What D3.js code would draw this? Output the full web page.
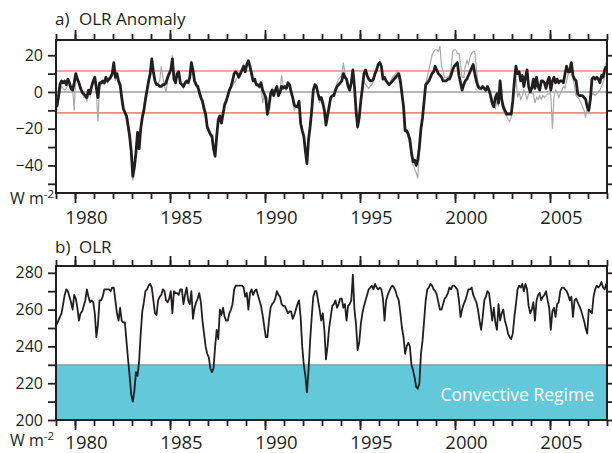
<!DOCTYPE html>
<html>
<head>
<meta charset="utf-8">
<title>OLR anomaly and OLR</title>
<script src="https://d3js.org/d3.v7.min.js"></script>
<style>
  body { margin: 0; background: #fff; }
  svg text { font-family: "Open Sans", sans-serif; fill: #231f20; }
</style>
</head>
<body>
<div id="chart"></div>
<script>
// monthly values, Jan 1979 .. Dec 2007 (one row per year)
const startYear = 1979, endYear = 2008;

// a) OLR anomaly, thick black series
const anomBlack = [
  -8, -3, 4, 6, 5, 6, 4, 7, 5, 2, 1, 5,
  10, 7, 5, 2, 0, -1, -2, -3, 1, -1, 3, 6,
  8, 2, -3, 5, 5, 6, 5, 8, 6, 7, 8, 10,
  16, 8, 10, 6, 4, -3, -9, -11, -13, -18, -24, -32,
  -46, -41, -33, -22, -31, -20, -14, -10, -4, 1, 6, 10,
  18, 11, 6, 4, 4, 3, 3, 4, 4, 5, 8, 10,
  12, 18, 7, 5, 10, 11, 5, 4, 3, 5, 6, 5,
  8, 16, 12, 6, 4, 3, 0, -3, -5, -9, -12, -19,
  -21, -23, -24, -31, -35, -24, -15, -13, -17, -12, -7, -5,
  -2, 1, 3, 6, 10, 11, 10, 8, 10, 12, 14, 11,
  15, 17, 14, 10, 6, 7, 4, 4, 3, 5, 1, -1,
  -3, -12, -8, -1, 1, -2, 1, 3, -2, 0, 3, 2,
  3, 2, 5, 4, 0, -3, -7, -8, -8, -5, -17, -21,
  -24, -32, -39, -26, -19, -10, 1, 4, 3, -1, -4, -3,
  -6, -10, -18, -13, -8, -3, -2, -2, 1, 3, 4, 5,
  6, 10, 8, 7, 3, 1, 5, 12, 3, -10, -19, -14,
  -5, 2, 10, 12, 9, 7, 6, 6, 7, 10, 12, 15,
  16, 14, 7, 8, 6, 5, 4, 5, 6, 7, 8, 9,
  10, 6, -1, -8, -21, -21, -23, -26, -33, -38, -37, -40,
  -37, -30, -20, -14, -5, 4, 5, 6, 8, 10, 11, 14,
  12, 10, 9, 8, 6, 6, 6, 7, 7, 9, 12, 14,
  15, 16, 9, 5, 1, 4, 6, 7, 9, 11, 13, 15,
  10, 6, 3, 2, 2, 3, 2, 1, 3, 1, -2, -6,
  -8, -3, -1, -6, 6, -4, -8, -10, -12, -12, -12, -12,
  -5, 6, 14, 10, 11, 6, 9, 3, 8, 12, 3, 0,
  2, 7, 2, 8, 3, 1, 6, 6, 5, 2, 6, 8,
  1, 6, 8, 5, 7, 5, 6, 6, 5, 10, 14, 11,
  11, 16, 9, 7, 6, -1, -2, -2, -2, -3, -4, -8,
  -10, -4, 7, 8, 7, 8, 7, 5, 9, 8, 12, 14
];

// a) OLR anomaly, thin grey series
const anomGray = [
  -10, -5, 0, 3, 2, 1, 2, 4, 3, 1, 2, -10,
  8, 6, 4, 1, -1, -3, -3, -5, 0, -2, 2, 5,
  7, 0, -16, 3, 4, 5, 4, 6, 5, 6, 7, 9,
  16, 6, 9, 4, 2, -4, -10, -12, -14, -20, -26, -34,
  -48, -42, -33, -24, -30, -19, -12, -8, -3, 2, 7, 12,
  16, 12, 6, 4, 5, 6, 14, 8, 3, 0, 6, 9,
  13, 20, 8, 5, 10, 10, 5, 4, 2, 4, 5, 6,
  8, 17, 11, 5, 3, 2, -2, -4, -7, -10, -14, -20,
  -22, -24, -25, -30, -33, -22, -14, -13, -15, -11, -6, -4,
  -1, 0, 2, 3, 5, 6, 8, 8, 11, 13, 15, 12,
  14, 16, 13, 9, 6, 6, 3, 3, 2, 4, -6, -2,
  -5, -13, -6, 0, 2, -1, 1, 2, -2, 1, 9, 3,
  2, 1, 4, 3, -1, -4, -10, -8, -9, -6, -15, -20,
  -26, -30, -38, -24, -17, -9, 2, 4, 2, -2, -6, -3,
  -5, -10, -16, -13, -8, -4, -3, -1, 2, 5, 7, 8,
  9, 16, 10, 7, 3, 2, 6, 12, 2, -11, -20, -14,
  -6, 0, 6, 4, 3, 2, 3, 4, 6, 9, 11, 14,
  15, 13, 8, 7, 6, 4, 4, 6, 8, 9, 10, 11,
  9, 5, -2, -10, -22, -22, -25, -28, -35, -40, -42, -44,
  -47, -32, -20, -12, -4, 5, 8, 12, 16, 20, 22, 23,
  23, 22, 25, 14, 11, 8, 8, 8, 9, 12, 22, 23,
  23, 21, 21, 15, 8, 8, 14, 17, 15, 19, 21, 22,
  22, 13, 5, 3, 1, 2, 1, 0, 2, 0, -4, -8,
  -8, -9, -5, -8, 3, -7, -10, -12, -13, -15, -16, -14,
  -6, 2, 8, -3, 0, -4, -2, 1, -1, -4, -1, 0,
  -1, -1, -6, -3, -4, -2, -4, -2, -3, -2, -1, -1,
  -1, -20, -3, 1, 0, -3, -1, 1, 3, 2, 6, 10,
  15, 14, 7, 3, -2, -3, -4, -6, -8, -10, -14, -8,
  -12, -5, -1, -1, -2, -1, 0, 1, 3, 5, 8, 16
];

// b) OLR
const olr = [
  252, 254, 256, 258, 263, 268, 271, 270, 267, 264, 260, 268,
  266, 261, 254, 258, 259, 262, 265, 271, 267, 264, 265, 264,
  258, 245, 252, 265, 265, 267, 271, 271, 271, 271, 270, 272,
  272, 265, 258, 254, 261, 254, 253, 253, 243, 233, 224, 214,
  210, 216, 226, 224, 232, 247, 259, 264, 270, 271, 273, 274,
  272, 265, 258, 257, 265, 267, 268, 271, 270, 265, 264, 266,
  270, 258, 270, 269, 269, 268, 271, 271, 263, 268, 272, 265,
  263, 270, 255, 261, 264, 266, 269, 264, 254, 247, 240, 236,
  234, 228, 226, 228, 240, 249, 244, 260, 257, 261, 256, 254,
  254, 258, 260, 263, 271, 273, 273, 273, 273, 273, 272, 267,
  269, 260, 269, 271, 268, 270, 271, 268, 265, 262, 257, 251,
  245, 245, 254, 261, 263, 264, 266, 270, 268, 267, 263, 262,
  262, 260, 258, 259, 259, 255, 257, 260, 263, 265, 256, 240,
  230, 224, 215, 227, 243, 256, 267, 270, 270, 265, 260, 254,
  258, 249, 233, 240, 250, 256, 262, 263, 265, 261, 263, 266,
  266, 261, 263, 254, 262, 263, 265, 279, 260, 252, 238, 242,
  252, 258, 262, 265, 268, 271, 272, 273, 271, 274, 272, 271,
  272, 271, 266, 254, 265, 268, 270, 272, 273, 272, 270, 267,
  265, 258, 250, 245, 236, 240, 242, 240, 230, 227, 223, 218,
  217, 220, 236, 243, 254, 265, 271, 272, 274, 273, 271, 270,
  268, 264, 260, 260, 263, 266, 267, 269, 272, 271, 273, 273,
  272, 271, 265, 256, 260, 263, 265, 268, 271, 271, 272, 268,
  266, 264, 260, 254, 249, 256, 265, 267, 270, 269, 262, 254,
  261, 253, 249, 263, 254, 258, 260, 254, 251, 247, 245, 244,
  247, 256, 263, 271, 273, 272, 274, 270, 274, 271, 262, 258,
  260, 264, 254, 265, 268, 269, 265, 267, 268, 270, 265, 261,
  249, 259, 261, 256, 263, 264, 270, 272, 272, 271, 270, 268,
  265, 267, 256, 265, 266, 264, 262, 260, 257, 254, 250, 247,
  260, 259, 258, 267, 271, 273, 272, 273, 275, 272, 271, 274
];

const anomLabels = [20, 0, -20, -40];
const olrLabels = [200, 220, 240, 260, 280];
const anomLimit = 11.4;     // red threshold lines
const convective = 230;     // top of the convective regime band

const width = 612, height = 453;
const svg = d3.select("#chart").append("svg")
  .attr("width", width)
  .attr("height", height);

const x = d3.scaleLinear().domain([startYear, endYear]).range([56, 607]);
const monthX = (d, i) => x(startYear + (i + 0.5) / 12);

const yA = d3.scaleLinear().domain([-55, 28.3]).range([193, 40]);
const yB = d3.scaleLinear().domain([200, 283.7]).range([420, 266]);

const ink = "#231f20";
const years = d3.range(startYear, endYear + 1);
const majorYears = years.filter(d => d % 5 === 0);
const fmt = d3.format("d");

function drawAxes(y, minorVals, labels, labelY) {
  const [b, t] = y.range();
  const style = g => {
    g.select(".domain").remove();
    g.selectAll("line").attr("stroke", ink).attr("stroke-width", 1.8);
  };

  // top: yearly ticks, longer every 5 years
  svg.append("g").attr("transform", `translate(0,${t})`)
    .call(d3.axisTop(x).tickValues(years).tickSize(6).tickFormat(""))
    .call(style);
  svg.append("g").attr("transform", `translate(0,${t})`)
    .call(d3.axisTop(x).tickValues(majorYears).tickSize(10).tickFormat(""))
    .call(style);

  // bottom
  svg.append("g").attr("transform", `translate(0,${b})`)
    .call(d3.axisBottom(x).tickValues(years).tickSize(6).tickFormat(""))
    .call(style);
  const bx = svg.append("g").attr("transform", `translate(0,${b})`)
    .call(d3.axisBottom(x).tickValues(majorYears).tickSize(10).tickFormat(fmt))
    .call(style);
  bx.selectAll("text")
    .attr("x", 11).attr("y", labelY).attr("dy", null)
    .style("font-size", "18.5px").attr("fill", ink);

  // left with labels, right without
  const ly = svg.append("g").attr("transform", "translate(56,0)")
    .call(d3.axisLeft(y).tickValues(minorVals).tickSize(8).tickPadding(5)
      .tickFormat(d => labels.includes(d) ? fmt(d) : ""))
    .call(style);
  ly.selectAll("text").style("font-size", "16px").attr("fill", ink);
  svg.append("g").attr("transform", "translate(607,0)")
    .call(d3.axisRight(y).tickValues(minorVals).tickSize(6).tickFormat(""))
    .call(style);
}

function frame(y) {
  const [b, t] = y.range();
  svg.append("rect")
    .attr("x", x.range()[0]).attr("y", t)
    .attr("width", x.range()[1] - x.range()[0]).attr("height", b - t)
    .attr("fill", "none").attr("stroke", ink).attr("stroke-width", 2);
}

function unitLabel(yBase) {
  const t = svg.append("text").attr("x", 10).attr("y", yBase).style("font-size", "16px");
  t.append("tspan").text("W m");
  t.append("tspan").attr("dy", -6).style("font-size", "11.5px").text("-2");
}

// ---------- panel a ----------
svg.append("line")
  .attr("x1", x(startYear)).attr("x2", x(endYear))
  .attr("y1", yA(0)).attr("y2", yA(0))
  .attr("stroke", "#6d6e70").attr("stroke-width", 1.2);
[anomLimit, -anomLimit].forEach(v => {
  svg.append("line")
    .attr("x1", x(startYear)).attr("x2", x(endYear))
    .attr("y1", yA(v)).attr("y2", yA(v))
    .attr("stroke", "#f08a7a").attr("stroke-width", 1.6);
});

const lineA = d3.line().x(monthX).y(d => yA(d));
svg.append("path").datum(anomGray)
  .attr("d", lineA).attr("fill", "none")
  .attr("stroke", "#a7a9ac").attr("stroke-width", 1.2);
svg.append("path").datum(anomBlack)
  .attr("d", lineA).attr("fill", "none")
  .attr("stroke", ink).attr("stroke-width", 2.8).attr("stroke-linejoin", "round");

frame(yA);
drawAxes(yA, d3.range(-50, 21, 10), anomLabels, 30.5);

const titleA = svg.append("text").attr("y", 25).style("font-size", "17px");
titleA.append("tspan").attr("x", 55).text("a)");
titleA.append("tspan").attr("x", 79).text("OLR Anomaly");
unitLabel(204);

// ---------- panel b ----------
svg.append("rect")
  .attr("x", x(startYear)).attr("y", yB(convective))
  .attr("width", x(endYear) - x(startYear)).attr("height", yB(200) - yB(convective))
  .attr("fill", "#62c8da");
svg.append("line")
  .attr("x1", x(startYear)).attr("x2", x(endYear))
  .attr("y1", yB(convective)).attr("y2", yB(convective))
  .attr("stroke", "#8a8c8e").attr("stroke-width", 1);

const lineB = d3.line().x(monthX).y(d => yB(d));
svg.append("path").datum(olr)
  .attr("d", lineB).attr("fill", "none")
  .attr("stroke", ink).attr("stroke-width", 1.8).attr("stroke-linejoin", "round");

svg.append("text")
  .attr("x", 594).attr("y", 401)
  .attr("text-anchor", "end")
  .style("font-size", "17.5px").style("fill", "#fff")
  .text("Convective Regime");

frame(yB);
drawAxes(yB, d3.range(200, 281, 10), olrLabels, 29);

const titleB = svg.append("text").attr("y", 253).style("font-size", "17px");
titleB.append("tspan").attr("x", 55).text("b)");
titleB.append("tspan").attr("x", 79).text("OLR");
unitLabel(446);
</script>
</body>
</html>
